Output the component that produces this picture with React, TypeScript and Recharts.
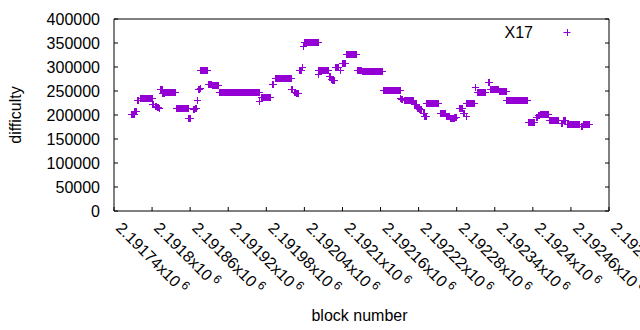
import React from 'react';
import { ScatterChart, Scatter, XAxis, YAxis, Legend } from 'recharts';

const COLOR = '#9400D3';
const FONT = 'Liberation Sans, Arial, sans-serif';
const FS = 16;

const seriesName = 'X17';
const xLabel = 'block number';
const yLabel = 'difficulty';

const xTicks = [
  2191740, 2191800, 2191860, 2191920, 2191980, 2192040, 2192100,
  2192160, 2192220, 2192280, 2192340, 2192400, 2192460, 2192520,
];
const yTicks = [0, 50000, 100000, 150000, 200000, 250000, 300000, 350000, 400000];

// runs of constant difficulty: first block, last block, value
const runStart = [
  2191768, 2191773, 2191777, 2191781, 2191801, 2191805, 2191809, 2191812,
  2191814, 2191817, 2191820, 2191838, 2191858, 2191865, 2191868, 2191872,
  2191873, 2191876, 2191877, 2191889, 2191895, 2191906, 2191970, 2191972,
  2191989, 2191995, 2192020, 2192024, 2192028, 2192032, 2192037, 2192038,
  2192040, 2192062, 2192063, 2192080, 2192083, 2192085, 2192089, 2192097,
  2192100, 2192106, 2192124, 2192131, 2192164, 2192192, 2192193, 2192197,
  2192214, 2192219, 2192222, 2192227, 2192230, 2192233, 2192254, 2192264,
  2192271, 2192277, 2192285, 2192291, 2192295, 2192296, 2192309, 2192312,
  2192330, 2192334, 2192347, 2192359, 2192393, 2192405, 2192409, 2192412,
  2192426, 2192445, 2192449, 2192454, 2192476, 2192480,
];
const runEnd = [
  2191772, 2191776, 2191779, 2191800, 2191803, 2191807, 2191810, 2191812,
  2191816, 2191819, 2191837, 2191857, 2191861, 2191867, 2191870, 2191872,
  2191875, 2191876, 2191888, 2191894, 2191905, 2191969, 2191970, 2191986,
  2191992, 2192019, 2192022, 2192026, 2192030, 2192035, 2192037, 2192039,
  2192062, 2192062, 2192078, 2192081, 2192083, 2192087, 2192094, 2192097,
  2192104, 2192122, 2192130, 2192163, 2192192, 2192192, 2192195, 2192212,
  2192216, 2192221, 2192224, 2192229, 2192232, 2192252, 2192262, 2192268,
  2192276, 2192279, 2192289, 2192293, 2192295, 2192308, 2192309, 2192326,
  2192332, 2192346, 2192358, 2192392, 2192403, 2192407, 2192411, 2192425,
  2192441, 2192447, 2192452, 2192474, 2192478, 2192490,
];
const runValue = [
  201500, 207700, 231000, 235000, 221000, 217400, 215300, 214000,
  252300, 245400, 247500, 214000, 193100, 210500, 213200, 231000,
  253700, 255800, 293400, 264200, 262100, 247500, 227800, 237000,
  262700, 276700, 252300, 246600, 245400, 293400, 299700, 342800,
  352000, 283600, 293400, 280000, 274600, 271100, 299700, 292600,
  308100, 326900, 292600, 291300, 251600, 234900, 231400, 229300,
  220900, 214000, 210500, 203600, 197900, 224500, 203600, 197900,
  193100, 195200, 214000, 203600, 197900, 224500, 257900, 247500,
  268400, 253700, 249500, 230700, 184800, 195200, 200000, 201500,
  188100, 182700, 188100, 181200, 175600, 181200,
];

const data: { block: number; difficulty: number }[] = [];
for (let i = 0; i < runStart.length; i++) {
  for (let b = runStart[i]; b <= runEnd[i]; b++) {
    data.push({ block: b, difficulty: runValue[i] });
  }
}

const fmtX = (v: number) => String(+(v / 1e6).toFixed(5));

const Cross = (props: any) => {
  const { cx, cy } = props;
  if (cx == null || cy == null) return null;
  const x = Math.floor(cx) + 0.5;
  const y = Math.floor(cy) + 0.5;
  return (
    <path
      d={`M${x - 3.5},${y}H${x + 3.5}M${x},${y - 3.5}V${y + 3.5}`}
      stroke={COLOR}
      strokeWidth={1}
      fill="none"
    />
  );
};

const BottomTick = (props: any) => {
  const { x, y, payload } = props;
  const tx = x + 1;
  const ty = y + 18;
  return (
    <g>
      <line x1={x} x2={x} y1={y} y2={y - 4} stroke="#000" />
      <text
        x={tx}
        y={ty}
        transform={`rotate(45 ${tx} ${ty})`}
        fontFamily={FONT}
        fontSize={FS}
        fill="#000"
        textAnchor="start"
      >
        {fmtX(payload.value)}x10
        <tspan dx={3} dy={-6} fontSize={12}>6</tspan>
      </text>
    </g>
  );
};

const TopTick = (props: any) => {
  const { x, y } = props;
  return <line x1={x} x2={x} y1={y} y2={y + 4} stroke="#000" />;
};

const LeftTick = (props: any) => {
  const { x, y, payload } = props;
  return (
    <g>
      <line x1={x} x2={x + 4} y1={y} y2={y} stroke="#000" />
      <text
        x={x - 14}
        y={y + 5.5}
        textAnchor="end"
        fontFamily={FONT}
        fontSize={FS}
        fill="#000"
      >
        {payload.value}
      </text>
    </g>
  );
};

const RightTick = (props: any) => {
  const { x, y } = props;
  return <line x1={x} x2={x - 4} y1={y} y2={y} stroke="#000" />;
};

const XLabel = (props: any) => {
  const vb = props.viewBox || {};
  return (
    <text
      x={vb.x + vb.width / 2 - 2}
      y={321}
      textAnchor="middle"
      fontFamily={FONT}
      fontSize={FS}
      fill="#000"
    >
      {xLabel}
    </text>
  );
};

const YLabel = (props: any) => {
  const vb = props.viewBox || {};
  const x = vb.x + 21;
  const y = vb.y + vb.height / 2;
  return (
    <text
      x={x}
      y={y}
      transform={`rotate(-90 ${x} ${y})`}
      textAnchor="middle"
      fontFamily={FONT}
      fontSize={FS}
      fill="#000"
    >
      {yLabel}
    </text>
  );
};

const LegendContent = (props: any) => {
  const name = props?.payload?.[0]?.value ?? seriesName;
  return (
    <svg width={100} height={20} style={{ display: 'block' }}>
      <text x={53} y={16} textAnchor="end" fontFamily={FONT} fontSize={FS} fill="#000">
        {name}
      </text>
      <path d="M83.5,10.5H90.5M87.5,7V14" stroke={COLOR} strokeWidth={1} />
    </svg>
  );
};

export default function App() {
  return (
    <div style={{ position: 'absolute', left: 0, top: 0, background: '#fff' }}>
      <ScatterChart
        width={640}
        height={330}
        margin={{ top: 0, right: 0, bottom: 0, left: 0 }}
        style={{ fontFamily: FONT }}
      >
        <XAxis
          xAxisId="b"
          type="number"
          dataKey="block"
          domain={[2191740, 2192520]}
          ticks={xTicks}
          interval={0}
          allowDataOverflow
          height={119}
          tickSize={0}
          tickMargin={0}
          tickLine={false}
          axisLine={{ stroke: '#000' }}
          tick={<BottomTick />}
          label={<XLabel />}
        />
        <XAxis
          xAxisId="t"
          orientation="top"
          type="number"
          domain={[2191740, 2192520]}
          ticks={xTicks}
          interval={0}
          allowDataOverflow
          height={19}
          tickSize={0}
          tickMargin={0}
          tickLine={false}
          axisLine={{ stroke: '#000' }}
          tick={<TopTick />}
        />
        <YAxis
          yAxisId="l"
          type="number"
          dataKey="difficulty"
          domain={[0, 400000]}
          ticks={yTicks}
          interval={0}
          allowDataOverflow
          width={114}
          tickSize={0}
          tickMargin={0}
          tickLine={false}
          axisLine={{ stroke: '#000' }}
          tick={<LeftTick />}
          label={<YLabel />}
        />
        <YAxis
          yAxisId="r"
          orientation="right"
          type="number"
          domain={[0, 400000]}
          ticks={yTicks}
          interval={0}
          allowDataOverflow
          width={31}
          tickSize={0}
          tickMargin={0}
          tickLine={false}
          axisLine={{ stroke: '#000' }}
          tick={<RightTick />}
        />
        <Legend
          layout="horizontal"
          verticalAlign="middle"
          align="center"
          wrapperStyle={{ left: 480, top: 22, width: 100, height: 20 }}
          content={<LegendContent />}
        />
        <Scatter
          name={seriesName}
          data={data}
          xAxisId="b"
          yAxisId="l"
          fill={COLOR}
          shape={<Cross />}
          isAnimationActive={false}
        />
      </ScatterChart>
    </div>
  );
}
